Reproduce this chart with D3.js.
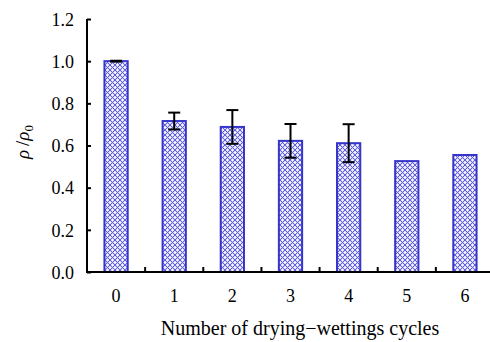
<!DOCTYPE html>
<html><head><meta charset="utf-8">
<script src="https://cdn.jsdelivr.net/npm/d3@7"></script>
<style>body{margin:0;background:#fff}svg{display:block}</style>
</head><body>
<script>
const categories = ["0","1","2","3","4","5","6"];
const values = [1.0, 0.716, 0.688, 0.622, 0.611, 0.526, 0.555];
const errors = [0.002, 0.04, 0.08, 0.08, 0.09, null, null];
const yTicks = [0.0, 0.2, 0.4, 0.6, 0.8, 1.0, 1.2];

const W = 490, H = 342;
const m = {left: 87, top: 19, right: -4, bottom: 70};
const svg = d3.select("body").append("svg").attr("width", W).attr("height", H);
const defs = svg.append("defs");
const pat = defs.append("pattern").attr("id","hatch").attr("patternUnits","userSpaceOnUse")
  .attr("width",5).attr("height",5);
pat.append("rect").attr("width",5).attr("height",5).attr("fill","#d0d0f6");
pat.append("path").attr("d","M0,0L5,5M5,0L0,5").attr("stroke","#6060e0").attr("stroke-width",1.0);
pat.append("circle").attr("cx",2.5).attr("cy",0).attr("r",0.9).attr("fill","#fff");
pat.append("circle").attr("cx",0).attr("cy",2.5).attr("r",0.9).attr("fill","#fff");
pat.append("circle").attr("cx",5).attr("cy",2.5).attr("r",0.9).attr("fill","#fff");
pat.append("circle").attr("cx",2.5).attr("cy",5).attr("r",0.9).attr("fill","#fff");

const x = d3.scaleBand().domain(categories).range([m.left, W - m.right]).paddingInner(0).paddingOuter(0);
const y = d3.scaleLinear().domain([0, 1.2]).range([H - m.bottom, m.top]);
const font = "'Liberation Serif','Times New Roman',serif";

const bw = x.bandwidth() * 0.4;
svg.append("g").selectAll("rect").data(values).join("rect")
  .attr("x", (d,i) => x(categories[i]) + x.bandwidth()/2 - bw/2)
  .attr("y", d => y(d))
  .attr("width", bw)
  .attr("height", d => y(0) - y(d))
  .attr("fill", "url(#hatch)")
  .attr("stroke", "#3535cc").attr("stroke-width", 2);

const eg = svg.append("g").attr("stroke","#000").attr("stroke-width",2);
values.forEach((v,i) => {
  if (errors[i] == null) return;
  const cx = x(categories[i]) + x.bandwidth()/2;
  const e = errors[i];
  eg.append("line").attr("x1",cx).attr("x2",cx).attr("y1",y(v+e)).attr("y2",y(v-e));
  eg.append("line").attr("x1",cx-6).attr("x2",cx+6).attr("y1",y(v+e)).attr("y2",y(v+e));
  eg.append("line").attr("x1",cx-6).attr("x2",cx+6).attr("y1",y(v-e)).attr("y2",y(v-e));
});

// y axis
const ya = svg.append("g").attr("transform",`translate(${m.left},0)`)
  .call(d3.axisRight(y).tickValues(yTicks).tickSize(4).tickFormat(d3.format(".1f")));
ya.select(".domain").attr("stroke","#000").attr("stroke-width",2).attr("d",`M0,${y(1.2)}V${y(0)}`);
ya.selectAll(".tick line").attr("stroke","#000").attr("stroke-width",2);
ya.selectAll(".tick text").attr("x",-13).attr("text-anchor","end").attr("dy","0.35em")
  .attr("font-family",font).attr("font-size",18).attr("fill","#000");

// x axis
const xa = svg.append("g").attr("transform",`translate(0,${y(0)})`);
xa.append("line").attr("x1",m.left-1).attr("x2",W).attr("y1",0).attr("y2",0).attr("stroke","#000").attr("stroke-width",2);
xa.selectAll("line.t").data(categories.slice(1)).join("line").attr("class","t")
  .attr("x1",d=>x(d)).attr("x2",d=>x(d)).attr("y1",0).attr("y2",-5).attr("stroke","#000").attr("stroke-width",2);
xa.selectAll("text").data(categories).join("text")
  .attr("x",d=>x(d)+x.bandwidth()/2).attr("y",30).attr("text-anchor","middle")
  .attr("font-family",font).attr("font-size",18).attr("fill","#000").text(d=>d);

svg.append("text").attr("x",300).attr("y",335).attr("text-anchor","middle")
  .attr("font-family",font).attr("font-size",20).attr("fill","#000")
  .text("Number of drying\u2212wettings cycles");

const yl = svg.append("text").attr("transform","translate(29,142) rotate(-90)")
  .attr("text-anchor","middle").attr("font-family",font).attr("font-size",19).attr("fill","#000");
yl.append("tspan").attr("font-style","italic").text("\u03c1");
yl.append("tspan").text("\u2009/");
yl.append("tspan").attr("font-style","italic").text("\u03c1");
yl.append("tspan").attr("font-size",13).attr("dy",4).text("0");
</script>
</body></html>
